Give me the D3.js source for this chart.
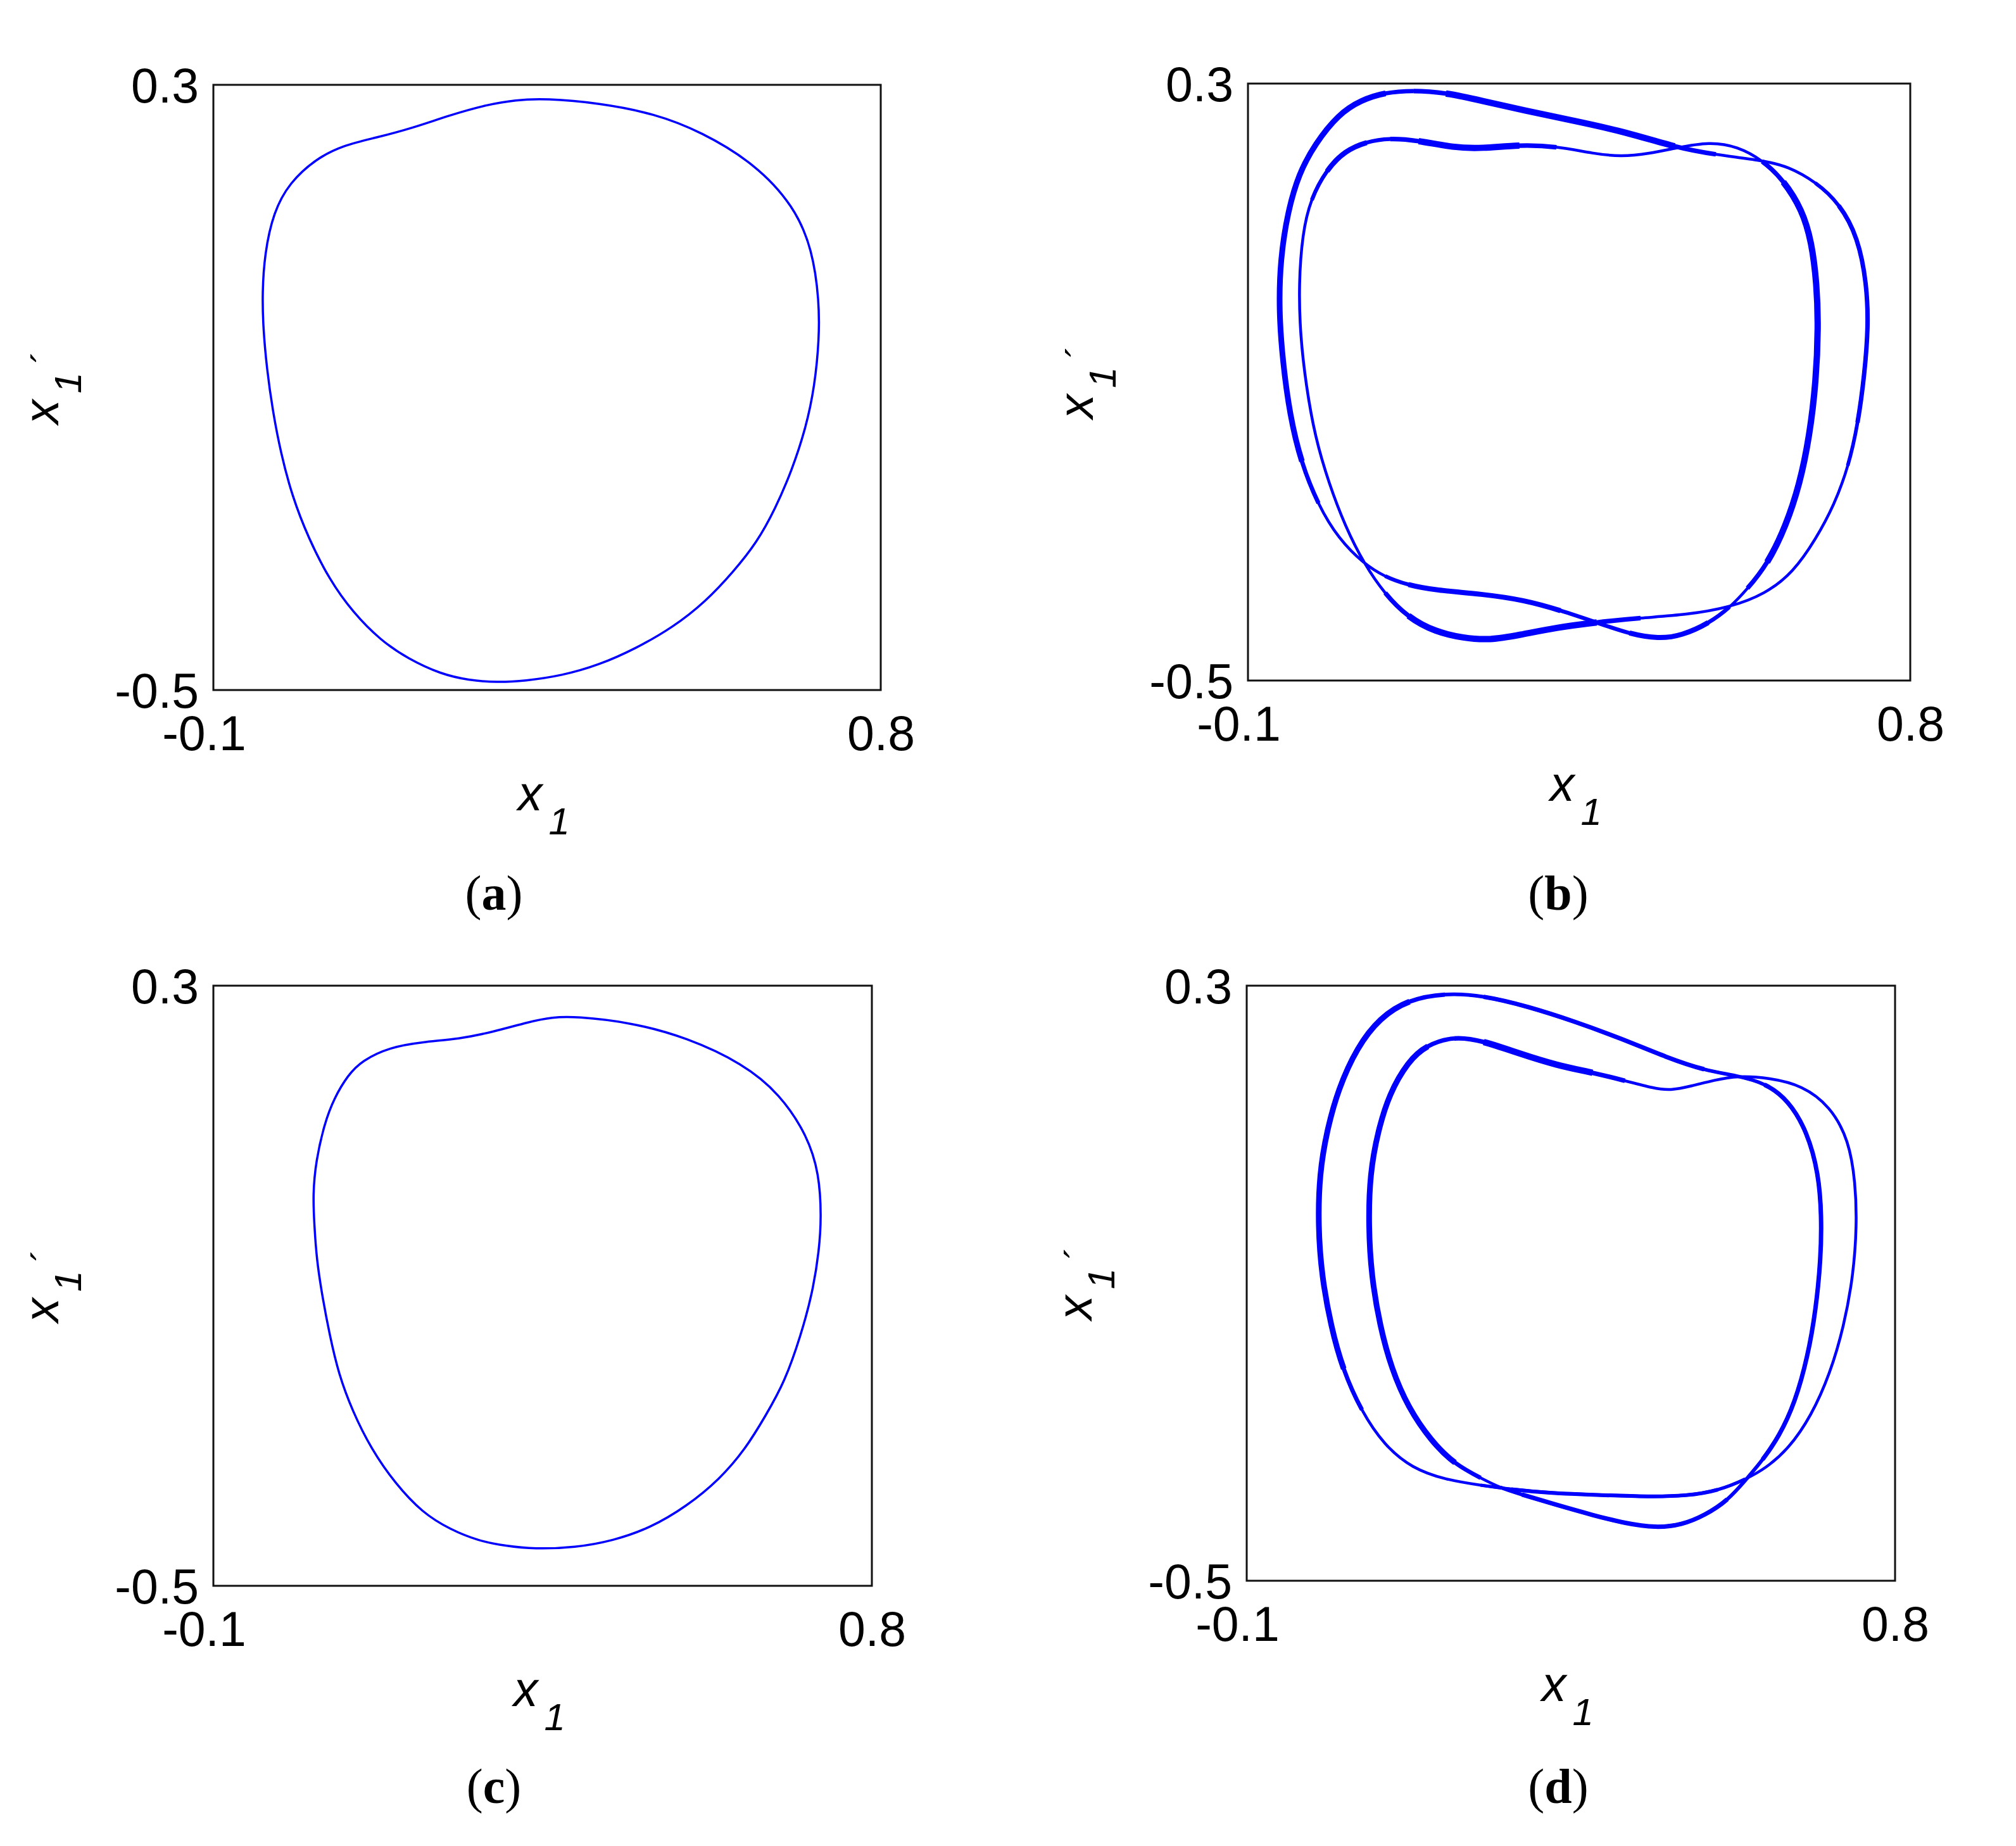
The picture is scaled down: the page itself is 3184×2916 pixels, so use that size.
<!DOCTYPE html>
<html>
<head>
<meta charset="utf-8">
<script src="https://cdnjs.cloudflare.com/ajax/libs/d3/7.8.5/d3.min.js"></script>
<style>
body { margin: 0; background: #fff; }
.axlabel { font-family: "Liberation Sans", Arial, sans-serif; font-style: italic; fill: #000; }
.panel { font-family: "Liberation Serif", "Times New Roman", serif; font-size: 78px; fill: #000; }
</style>
</head>
<body>
<div class="graphContainer"></div>
<script>
//Page size
const w = 3184;
const h = 2916;

//Axis ticks, same for all four panels
const xTicks = [-0.1, 0.8];
const yTicks = [-0.5, 0.3];
const panelNames = ["a", "b", "c", "d"];

//Panel (a): single loop, [x1, x1'] going clockwise from the top
const curveA = [[0.348,0.282],[0.420,0.276],[0.495,0.262],[0.558,0.238],[0.630,0.196],[0.683,0.140],[0.708,0.082],[0.717,0.014],[0.717,-0.036],[0.711,-0.098],[0.699,-0.154],[0.680,-0.210],[0.658,-0.260],[0.633,-0.305],[0.601,-0.344],[0.564,-0.383],[0.520,-0.417],[0.470,-0.445],[0.420,-0.467],[0.370,-0.481],[0.320,-0.488],[0.282,-0.490],[0.244,-0.487],[0.207,-0.479],[0.163,-0.459],[0.125,-0.434],[0.088,-0.397],[0.057,-0.355],[0.028,-0.299],[0.006,-0.243],[-0.009,-0.187],[-0.020,-0.131],[-0.028,-0.075],[-0.033,-0.019],[-0.034,0.025],[-0.031,0.076],[-0.019,0.132],[0.003,0.171],[0.038,0.202],[0.075,0.220],[0.119,0.230],[0.169,0.243],[0.219,0.260],[0.270,0.274],[0.307,0.280]];

//Panel (c): single loop
const curveC = [[0.395,0.259],[0.471,0.251],[0.547,0.231],[0.624,0.196],[0.674,0.156],[0.712,0.100],[0.728,0.049],[0.731,-0.008],[0.728,-0.053],[0.719,-0.109],[0.703,-0.166],[0.681,-0.228],[0.655,-0.273],[0.627,-0.318],[0.592,-0.358],[0.547,-0.394],[0.497,-0.423],[0.446,-0.440],[0.395,-0.449],[0.338,-0.451],[0.300,-0.447],[0.262,-0.440],[0.224,-0.425],[0.186,-0.403],[0.148,-0.363],[0.116,-0.318],[0.090,-0.267],[0.071,-0.217],[0.059,-0.166],[0.049,-0.115],[0.041,-0.064],[0.038,-0.019],[0.036,0.021],[0.040,0.066],[0.052,0.117],[0.065,0.150],[0.084,0.181],[0.103,0.200],[0.141,0.218],[0.186,0.225],[0.236,0.229],[0.281,0.238],[0.332,0.252],[0.363,0.258]];

//Panel (b): two-turn orbit, pieces in running order
const bOuterLeft = [[0.058,-0.344],[0.023,-0.310],[-0.005,-0.264],[-0.028,-0.207],[-0.043,-0.145],[-0.053,-0.071],[-0.058,-0.003],[-0.056,0.065],[-0.046,0.128],[-0.031,0.179],[-0.009,0.219],[0.023,0.259],[0.054,0.278],[0.086,0.288],[0.124,0.291]];
const bUpperTop = [[0.124,0.291],[0.168,0.288],[0.218,0.277],[0.275,0.264],[0.344,0.250],[0.414,0.235],[0.483,0.214],[0.533,0.205],[0.600,0.197]];
const bOuterRight = [[0.600,0.197],[0.634,0.189],[0.672,0.168],[0.704,0.139],[0.729,0.094],[0.741,0.031],[0.743,-0.026],[0.738,-0.088],[0.729,-0.156],[0.716,-0.213],[0.697,-0.264],[0.672,-0.310],[0.641,-0.355],[0.603,-0.384],[0.555,-0.402]];
const bLeftDip = [[0.555,-0.402],[0.496,-0.412],[0.433,-0.416],[0.373,-0.422],[0.319,-0.429],[0.269,-0.439],[0.228,-0.446],[0.193,-0.443],[0.155,-0.435],[0.117,-0.415],[0.086,-0.384],[0.058,-0.344]];
const bInnerLeft = [[0.058,-0.344],[0.032,-0.293],[0.010,-0.236],[-0.009,-0.173],[-0.021,-0.105],[-0.029,-0.037],[-0.031,0.031],[-0.026,0.099],[-0.015,0.145],[0.007,0.185],[0.032,0.210],[0.061,0.222],[0.092,0.227]];
const bLowerTop = [[0.092,0.227],[0.130,0.224],[0.180,0.214],[0.218,0.213],[0.269,0.218],[0.319,0.216],[0.370,0.206],[0.407,0.202],[0.445,0.206],[0.483,0.214],[0.527,0.222],[0.565,0.216],[0.600,0.197]];
const bInnerRight = [[0.600,0.197],[0.628,0.170],[0.653,0.131],[0.666,0.088],[0.673,0.031],[0.675,-0.026],[0.672,-0.099],[0.663,-0.173],[0.650,-0.236],[0.631,-0.293],[0.606,-0.344],[0.578,-0.378],[0.555,-0.402]];
const bRightDip = [[0.555,-0.402],[0.527,-0.423],[0.489,-0.440],[0.458,-0.444],[0.420,-0.438],[0.373,-0.422],[0.325,-0.406],[0.275,-0.392],[0.218,-0.384],[0.155,-0.379],[0.117,-0.372],[0.086,-0.361],[0.058,-0.344]];

//Panel (d): two-turn orbit, pieces in running order
const dOuterLeft = [[0.091,-0.318],[0.059,-0.272],[0.033,-0.215],[0.017,-0.158],[0.004,-0.090],[-0.001,-0.022],[0.001,0.047],[0.011,0.104],[0.027,0.161],[0.053,0.217],[0.085,0.257],[0.124,0.281],[0.175,0.290]];
const dUpperTop = [[0.175,0.290],[0.227,0.287],[0.291,0.272],[0.355,0.252],[0.420,0.229],[0.484,0.203],[0.536,0.186],[0.581,0.179]];
const dInnerRight = [[0.581,0.179],[0.620,0.169],[0.652,0.146],[0.678,0.104],[0.694,0.047],[0.698,-0.010],[0.697,-0.067],[0.690,-0.136],[0.679,-0.198],[0.661,-0.261],[0.639,-0.306],[0.616,-0.338],[0.594,-0.363]];
const dDip = [[0.594,-0.363],[0.568,-0.392],[0.536,-0.412],[0.504,-0.425],[0.468,-0.429],[0.426,-0.423],[0.381,-0.412],[0.330,-0.398],[0.278,-0.383],[0.252,-0.375],[0.227,-0.363]];
const dInnerLeft = [[0.227,-0.363],[0.188,-0.343],[0.156,-0.312],[0.124,-0.267],[0.101,-0.215],[0.085,-0.158],[0.073,-0.090],[0.069,-0.022],[0.071,0.047],[0.082,0.104],[0.098,0.155],[0.124,0.198],[0.149,0.220],[0.188,0.232]];
const dLowerTop = [[0.188,0.232],[0.227,0.226],[0.278,0.209],[0.330,0.193],[0.381,0.183],[0.426,0.172],[0.465,0.162],[0.488,0.159],[0.517,0.165],[0.549,0.173],[0.581,0.179]];
const dOuterRight = [[0.581,0.179],[0.626,0.176],[0.671,0.166],[0.710,0.138],[0.736,0.092],[0.745,0.035],[0.747,-0.022],[0.742,-0.090],[0.729,-0.158],[0.710,-0.221],[0.684,-0.278],[0.652,-0.323],[0.620,-0.349],[0.594,-0.363]];
const dFlat = [[0.594,-0.363],[0.555,-0.379],[0.510,-0.386],[0.459,-0.387],[0.394,-0.385],[0.317,-0.382],[0.265,-0.377],[0.227,-0.372],[0.175,-0.364],[0.130,-0.349],[0.091,-0.318]];

//Box positions on the page
const layout = {
	a: {left: 337, right: 1391, top: 134, bottom: 1090, labelX: 780, labelY: 1437},
	b: {left: 1971, right: 3017, top: 132, bottom: 1075, labelX: 2461, labelY: 1437},
	c: {left: 337, right: 1377, top: 1557, bottom: 2505, labelX: 780, labelY: 2848},
	d: {left: 1969, right: 2993, top: 1557, bottom: 2497, labelX: 2461, labelY: 2848}
};

//Pieces of each orbit and the wider parts of its band (piece index, point range, width)
const panels = {
	a: {pieces: [curveA], closedData: true, base: 3.5, bands: []},
	c: {pieces: [curveC], closedData: true, base: 3.5, bands: []},
	b: {
		pieces: [bOuterLeft, bUpperTop, bOuterRight, bLeftDip, bInnerLeft, bLowerTop, bInnerRight, bRightDip],
		base: 4.5,
		bands: [
			{piece: 0, from: 2, to: 14, width: 9},
			{piece: 1, from: 0, to: 7, width: 10},
			{piece: 4, from: 8, to: 12, width: 8},
			{piece: 5, from: 0, to: 5, width: 10},
			{piece: 6, from: 0, to: 11, width: 10},
			{piece: 2, from: 2, to: 9, width: 7},
			{piece: 3, from: 2, to: 10, width: 10},
			{piece: 7, from: 0, to: 5, width: 8},
			{piece: 7, from: 5, to: 11, width: 8}
		]
	},
	d: {
		pieces: [dOuterLeft, dUpperTop, dInnerRight, dDip, dInnerLeft, dLowerTop, dOuterRight, dFlat],
		base: 4.5,
		bands: [
			{piece: 0, from: 1, to: 12, width: 9},
			{piece: 4, from: 0, to: 13, width: 9},
			{piece: 1, from: 0, to: 7, width: 7},
			{piece: 2, from: 0, to: 12, width: 7},
			{piece: 5, from: 0, to: 5, width: 10},
			{piece: 3, from: 0, to: 9, width: 7},
			{piece: 7, from: 0, to: 7, width: 6}
		]
	}
};

const graphCont = d3.select(".graphContainer");

const svg = graphCont.append("svg")
	.attr("width", w)
	.attr("height", h)
	.attr("viewBox", `0 0 ${w} ${h}`);

svg.append("rect")
	.attr("width", w)
	.attr("height", h)
	.attr("fill", "#fff");

//Closed B-spline through the loop, only between loop indices i0 and i1
//(same pieces d3.curveBasisClosed makes, so bands sit exactly on the orbit)
function splinePart(pts, i0, i1) {
	const n = pts.length;
	const P = i => pts[((i % n) + n) % n];
	const knot = i => [(P(i - 1)[0] + 4 * P(i)[0] + P(i + 1)[0]) / 6, (P(i - 1)[1] + 4 * P(i)[1] + P(i + 1)[1]) / 6];
	const p = d3.path();
	const s = knot(i0);
	p.moveTo(s[0], s[1]);
	for (let i = i0; i < i1; i++) {
		const a = P(i), b = P(i + 1), e = knot(i + 1);
		p.bezierCurveTo((2 * a[0] + b[0]) / 3, (2 * a[1] + b[1]) / 3, (a[0] + 2 * b[0]) / 3, (a[1] + 2 * b[1]) / 3, e[0], e[1]);
	}
	return p.toString();
}

function drawPanel(key) {
	const L = layout[key];
	const P = panels[key];
	const x = d3.scaleLinear().domain(d3.extent(xTicks)).range([L.left, L.right]);
	const y = d3.scaleLinear().domain(d3.extent(yTicks)).range([L.bottom, L.top]);
	const g = svg.append("g").attr("id", "panel-" + key);

	// pieces share their end points, keep each only once
	const offsets = [];
	let loop = [];
	P.pieces.forEach(p => {
		offsets.push(loop.length);
		loop = loop.concat(P.closedData ? p : p.slice(0, -1));
	});

	const line = d3.line().x(d => x(d[0])).y(d => y(d[1])).curve(d3.curveBasisClosed);

	// the orbit
	g.append("path")
		.datum(loop)
		.attr("d", line)
		.attr("fill", "none")
		.attr("stroke", "#0000ff")
		.attr("stroke-width", P.base)
		.attr("stroke-linejoin", "round");

	// wider parts of the band, tapered in two steps
	const px = loop.map(d => [x(d[0]), y(d[1])]);
	P.bands.forEach(b => {
		const start = offsets[b.piece] + b.from;
		const end = offsets[b.piece] + b.to;
		const mid = (P.base + b.width) / 2;
		[[start, end, mid], [start + 1, end - 1, b.width]].forEach(([f, t, sw]) => {
			if (t - f < 1) return;
			g.append("path")
				.attr("d", splinePart(px, f, t))
				.attr("fill", "none")
				.attr("stroke", "#0000ff")
				.attr("stroke-width", sw)
				.attr("stroke-linecap", "butt");
		});
	});

	// box
	g.append("rect")
		.attr("x", L.left)
		.attr("y", L.top)
		.attr("width", L.right - L.left)
		.attr("height", L.bottom - L.top)
		.attr("fill", "none")
		.attr("stroke", "#111")
		.attr("stroke-width", 3);

	// tick labels through the axes
	g.append("g")
		.attr("transform", `translate(0,${L.bottom})`)
		.call(d3.axisBottom(x).tickValues(xTicks).tickSize(0).tickPadding(40).tickFormat(d => d.toFixed(1)))
		.attr("font-size", 77)
		.attr("font-family", "'Liberation Sans', Arial, sans-serif")
		.call(a => a.select(".domain").remove())
		.selectAll("text")
		.attr("fill", "#000")
		.attr("dx", d => d < 0 ? -15 : 0);

	g.append("g")
		.attr("transform", `translate(${L.left},0)`)
		.call(d3.axisLeft(y).tickValues(yTicks).tickSize(0).tickPadding(23).tickFormat(d => d.toFixed(1)))
		.attr("font-size", 77)
		.attr("font-family", "'Liberation Sans', Arial, sans-serif")
		.call(a => a.select(".domain").remove())
		.selectAll("text")
		.attr("fill", "#000")
		.attr("dy", "0.36em");

	// x label
	const xl = g.append("text")
		.attr("class", "axlabel")
		.attr("x", (L.left + L.right) / 2 - 5)
		.attr("y", L.bottom + 190)
		.attr("text-anchor", "middle");
	xl.append("tspan").attr("font-size", 77).text("x");
	xl.append("tspan").attr("font-size", 60).attr("dx", 10).attr("dy", 38).text("1");

	// y label
	const yl = g.append("text")
		.attr("class", "axlabel")
		.attr("text-anchor", "middle")
		.attr("transform", `translate(${L.left - 245},${(L.top + L.bottom) / 2}) rotate(-90)`);
	yl.append("tspan").attr("font-size", 77).text("x");
	yl.append("tspan").attr("font-size", 60).attr("dx", 10).attr("dy", 36).text("1");
	yl.append("tspan").attr("font-size", 60).attr("dx", 14).attr("dy", -36).attr("font-style", "normal").text("\u00b4");

	// panel letter
	const pl = g.append("text")
		.attr("class", "panel")
		.attr("x", L.labelX)
		.attr("y", L.labelY)
		.attr("text-anchor", "middle");
	pl.append("tspan").text("(");
	pl.append("tspan").attr("font-weight", "bold").text(key);
	pl.append("tspan").text(")");
}

panelNames.forEach(drawPanel);
</script>
</body>
</html>
